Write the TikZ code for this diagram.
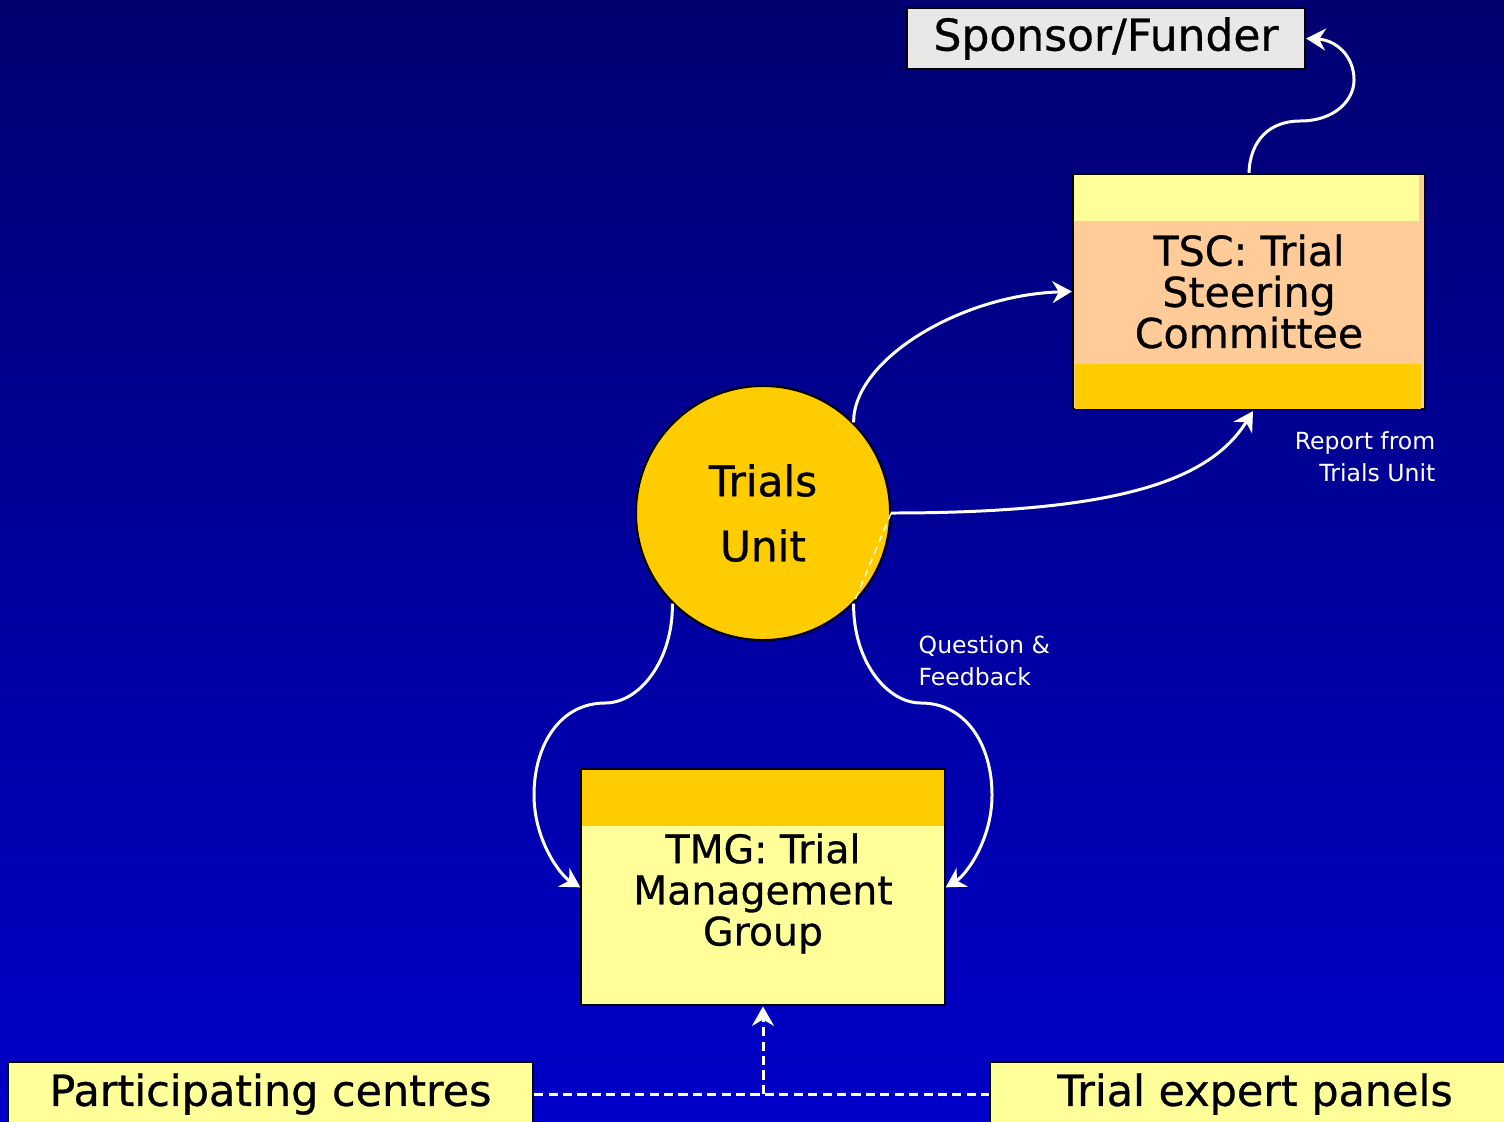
\documentclass[tikz,border=0pt]{standalone}
\usepackage{fontspec}
\setmainfont{DejaVu Sans}
\newfontfamily\boxfont{DejaVu Sans}[FakeBold=0.7]
\usepackage{tikz}
\usetikzlibrary{arrows.meta,positioning,calc}
\definecolor{navytop}{RGB}{0,0,112}
\definecolor{navybot}{RGB}{0,0,200}
\definecolor{gold}{RGB}{255,204,0}
\definecolor{pale}{RGB}{255,255,153}
\definecolor{peach}{RGB}{255,204,153}
\definecolor{silver}{RGB}{232,232,232}

\begin{document}
\begin{tikzpicture}[
  x=0.01cm, y=-0.01cm,
  every node/.style={align=center, inner sep=0pt},
  box/.style={draw=black, line width=0.6pt, rectangle},
  big/.style={font=\boxfont\fontsize{11.7}{11.7}\selectfont},
  note/.style={font=\fontsize{6.7}{9.1}\selectfont, text=white},
  arrow/.style={-{Stealth[length=5.5pt,width=6.2pt]}, white, line width=0.85pt},
  link/.style={white, line width=0.85pt, dash pattern=on 2.6pt off 1.5pt}
]

% background
\useasboundingbox (0,0) rectangle (1504,1121);
\clip (0,0) rectangle (1504,1121);
\shade[top color=navytop, bottom color=navybot] (0,0) rectangle (1504,1121);

\node[box, fill=silver, minimum width=3.98cm, minimum height=0.61cm,
  font=\boxfont\fontsize{12.5}{12.5}\selectfont] (sponsor) at (1106,38.5) {Sponsor/Funder};
\node[box, fill=peach, minimum width=3.52cm, minimum height=2.35cm, big] (tsc) at (1249,291.5) {TSC: Trial\\Steering\\Committee};
\node[circle, draw=black, line width=0.6pt, fill=gold, minimum size=2.54cm,
  font=\boxfont\fontsize{12}{18.5}\selectfont] (tu) at (763,513) {Trials\\Unit};
\node[box, fill=pale, minimum width=3.63cm, minimum height=2.36cm,
  font=\boxfont\fontsize{11.2}{11.7}\selectfont, below=1.27cm of tu] (tmg) {\rule{0pt}{12pt}TMG: Trial\\Management\\Group};
\node[box, fill=pale, minimum width=5.25cm, minimum height=0.64cm,
  font=\boxfont\fontsize{12.2}{12.2}\selectfont] (pc) at (270.5,1094) {Participating centres};
\node[box, fill=pale, minimum width=5.3cm, minimum height=0.64cm,
  font=\boxfont\fontsize{12.2}{12.2}\selectfont] (tep) at (1255,1094) {Trial expert panels};

% coloured bands in the boxes
\fill[pale] ($(tsc.north west)+(2,2)$) rectangle ($(tsc.north east)+(-7,48)$);
\fill[gold] ($(tsc.south west)+(3,-46)$) rectangle ($(tsc.south east)+(-5,-1)$);
\fill[gold] ($(tmg.north west)+(2,2)$) rectangle ($(tmg.north east)+(-2,58)$);

\node[note, align=right, anchor=east] (lbreport) at (1436,457) {Report from\\Trials Unit};
\node[note, align=left, anchor=west] (lbquery) at (918,661) {Question \&\\Feedback};

\draw[arrow] (tsc.north) .. controls (1250,140) and (1270,121) .. (1300,121)
  .. controls (1335,121) and (1354,100) .. (1354,80)
  .. controls (1354,55) and (1335,40) .. (sponsor.east);
\draw[arrow] (tu.45) .. controls (853,360) and (960,295) .. (tsc.west);
\draw[arrow] (tu.east) .. controls (1120,513) and (1210,480) .. ($(tsc.south)+(4,1)$);
\draw[arrow] (tu.225) .. controls (673,660) and (640,703) .. (605,703)
  .. controls (560,703) and (534,745) .. (534,795)
  .. controls (534,840) and (560,875) .. (tmg.west);
\draw[arrow] (tu.315) .. controls (853,660) and (886,703) .. (921,703)
  .. controls (966,703) and (992,745) .. (992,795)
  .. controls (992,840) and (966,875) .. (tmg.east);
\draw[white, line width=0.4pt, dash pattern=on 2pt off 1.5pt] (tu.east) -- (tu.315);

\coordinate (join) at (tmg.south |- pc.east);
\draw[link] (pc.east) -- (tep.west);
\draw[arrow, link] (join) -- (tmg.south);
\end{tikzpicture}
\end{document}
